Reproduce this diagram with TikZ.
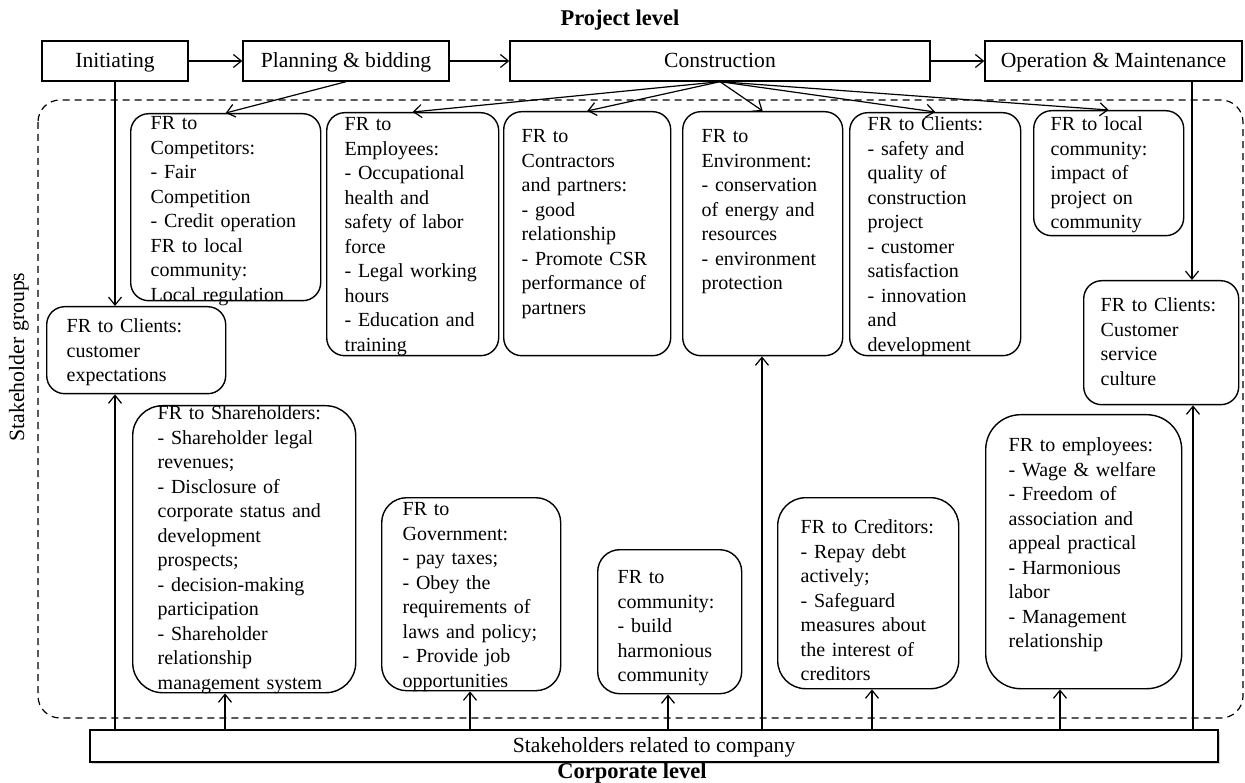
\documentclass[tikz,border=0pt]{standalone}
\usepackage{fontspec}
\setmainfont{Liberation Serif}
\usetikzlibrary{arrows.meta,shadows}

\newcommand\boxfont{\fontsize{20}{24.5}\selectfont\hyphenpenalty=10000}
\newcommand\phasefont{\fontsize{21.6}{26}\selectfont}

\begin{document}
\begin{tikzpicture}[
            x=1pt,
            y=-1pt,
            phase/.style={
                draw,
                fill=white,
                line width=1.4pt,
                minimum height=40pt,
                inner sep=0pt,
                text height=18pt,
                text depth=4pt,
                font=\phasefont
            },
            frbox/.style={
                draw,
                line width=1.4pt,
                rounded corners=18pt,
                anchor=north west,
                align=left,
                inner xsep=20pt,
                inner ysep=0pt,
                font=\boxfont
            },
            level/.style={
                font=\fontsize{22.5}{26}\selectfont\bfseries
            },
            arr/.style={
                line width=1.2pt,
                -{Straight Barb[length=8pt,width=13pt,line width=1.2pt]}
            }
        ]
            \useasboundingbox (0,0) rectangle (1245,783);

            % project level
            \node[level] (proj) at (620,20) {Project level};
            \node[phase, minimum width=146pt] (init) at (115,61) {Initiating};
            \node[phase, minimum width=206pt] (plan) at (346,61) {Planning \& bidding};
            \node[phase, minimum width=420pt] (cons) at (720,61) {Construction};
            \node[phase, minimum width=257pt] (ops) at (1113.5,61) {Operation \& Maintenance};

            % stakeholder groups
            \draw[line width=1.2pt, dash pattern=on 7pt off 5pt, rounded corners=22pt]
                (38,100) rectangle (1243,718);
            \node[rotate=90, font=\fontsize{21.8}{26}\selectfont] (grp) at (19,357) {Stakeholder groups};

            \node[frbox, text width=150pt, text height=16pt, text depth=171pt] (comp) at (130,113)
                {FR to\\Competitors:\\- Fair\\Competition\\- Credit operation\\FR to local\\community:\\Local regulation};
            \node[frbox, inner xsep=18pt, text width=136pt, text height=18pt, text depth=225pt] (emp) at (326,112)
                {FR to\\Employees:\\- Occupational\\health and\\safety of labor\\force\\- Legal working\\hours\\- Education and\\training};
            \node[frbox, inner xsep=18pt, text width=131pt, text height=31pt, text depth=213pt] (con) at (503,111)
                {FR to\\Contractors\\and partners:\\- good\\relationship\\- Promote CSR\\performance of\\partners};
            \node[frbox, inner xsep=19pt, text width=122pt, text height=31pt, text depth=213pt] (env) at (682,111)
                {FR to\\Environment:\\- conservation\\of energy and\\resources\\- environment\\protection};
            \node[frbox, inner xsep=18pt, text width=135pt, text height=18pt, text depth=225pt] (cli) at (849,112)
                {FR to Clients:\\- safety and\\quality of\\construction\\project\\- customer\\satisfaction\\- innovation\\and\\development};
            \node[frbox, inner xsep=17pt, text width=116pt, text height=20pt, text depth=105pt] (loc) at (1033,110)
                {FR to local\\community:\\impact of\\project on\\community};
            \node[frbox, text width=139pt, text height=26pt, text depth=61pt] (cll) at (46,306)
                {FR to Clients:\\customer\\expectations};
            \node[frbox, inner xsep=17pt, text width=121pt, text height=31pt, text depth=93pt] (clr) at (1083,280)
                {FR to Clients:\\Customer\\service\\culture};

            \node[frbox, rounded corners=30pt, inner xsep=25pt, text width=173pt, text height=14pt, text depth=273pt] (sh) at (132,405)
                {FR to Shareholders:\\- Shareholder legal\\revenues;\\- Disclosure of\\corporate status and\\development\\prospects;\\- decision-making\\participation\\- Shareholder\\relationship\\management system};
            \node[frbox, rounded corners=25pt, inner xsep=21pt, text width=137pt, text height=18pt, text depth=175pt] (gov) at (381,497)
                {FR to\\Government:\\- pay taxes;\\- Obey the\\requirements of\\laws and policy;\\- Provide job\\opportunities};
            \node[frbox, rounded corners=22pt, text width=104pt, text height=34pt, text depth=110pt] (comm) at (597,549)
                {FR to\\community:\\- build\\harmonious\\community};
            \node[frbox, rounded corners=28pt, inner xsep=23pt, text width=135pt, text height=36pt, text depth=155pt] (cre) at (777,497)
                {FR to Creditors:\\- Repay debt\\actively;\\- Safeguard\\measures about\\the interest of\\creditors};
            \node[frbox, rounded corners=35pt, inner xsep=23pt, text width=150pt, text height=37pt, text depth=237pt] (empb) at (985,414)
                {FR to employees:\\- Wage \& welfare\\- Freedom of\\association and\\appeal practical\\- Harmonious\\labor\\- Management\\relationship};

            % corporate level
            \node[phase, minimum width=1128pt, minimum height=32pt, text height=15pt, text depth=3pt,
                drop shadow={shadow xshift=1.5pt, shadow yshift=-2pt, fill=black!35}] (stake) at (654,746)
                {Stakeholders related to company};
            \node[level] (corp) at (632,773) {Corporate level};

            % connections
            \draw[arr] (init.east) -- (plan.west);
            \draw[arr] (plan.east) -- (cons.west);
            \draw[arr] (cons.east) -- (ops.west);
            \draw[arr] (init.south) -- (init.south |- cll.north);
            \draw[arr] (plan.south) -- (comp.north);
            \foreach \grp in {emp,con,env,cli,loc}
                \draw[arr] (cons.south) -- (\grp.north);
            \coordinate (opsdrop) at (1192,0);
            \draw[arr] (ops.south -| opsdrop) -- (clr.north -| opsdrop);
            \foreach \grp/\xx in {cll/115,sh/225,gov/470,comm/668,env/762,cre/872,empb/1060,clr/1193}
                \draw[arr] (\xx,0 |- stake.north) -- (\xx,0 |- \grp.south);
        \end{tikzpicture}
\end{document}
